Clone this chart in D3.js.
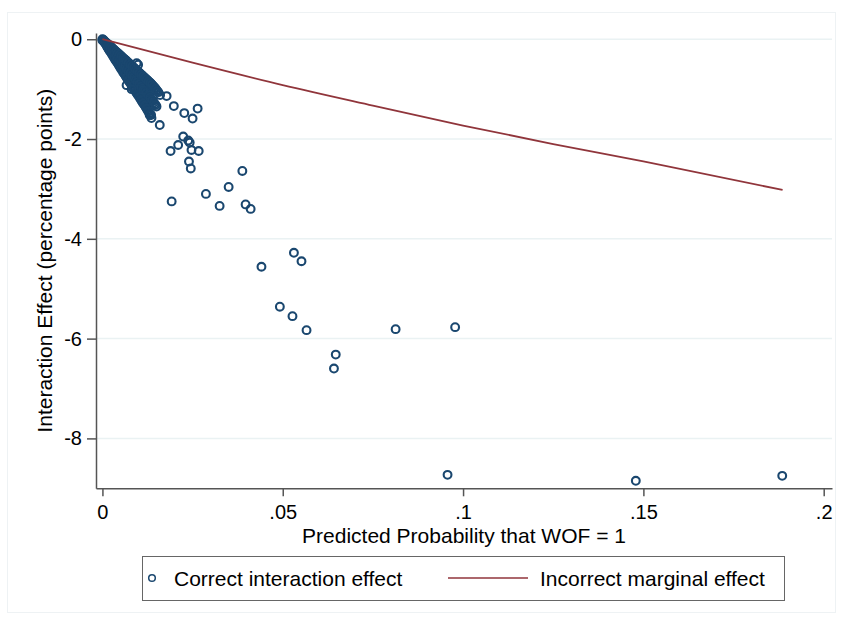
<!DOCTYPE html>
<html>
<head>
<meta charset="utf-8">
<script src="https://cdn.jsdelivr.net/npm/d3@7"></script>
<style>
  body { margin: 0; background: #fff; }
  svg text { font-family: "Liberation Sans", Arial, sans-serif; fill: #000; }
</style>
</head>
<body>
<div id="chart"></div>
<script>
var pointProb = [
  0.0000, 0.0000, 0.0005, 0.0005, 0.0010, 0.0010,
  0.0015, 0.0015, 0.0015, 0.0020, 0.0020, 0.0020,
  0.0025, 0.0025, 0.0025, 0.0030, 0.0030, 0.0030,
  0.0035, 0.0035, 0.0035, 0.0040, 0.0040, 0.0040,
  0.0045, 0.0045, 0.0045, 0.0050, 0.0050, 0.0050,
  0.0055, 0.0055, 0.0055, 0.0060, 0.0060, 0.0060,
  0.0065, 0.0065, 0.0065, 0.0070, 0.0070, 0.0070,
  0.0075, 0.0075, 0.0075, 0.0080, 0.0080, 0.0080,
  0.0085, 0.0085, 0.0085, 0.0090, 0.0090, 0.0090,
  0.0095, 0.0095, 0.0095, 0.0100, 0.0100, 0.0100,
  0.0105, 0.0105, 0.0105, 0.0110, 0.0110, 0.0110,
  0.0115, 0.0115, 0.0115, 0.0120, 0.0120, 0.0120,
  0.0125, 0.0125, 0.0125, 0.0130, 0.0130, 0.0130,
  0.0135, 0.0135, 0.0135, 0.0140, 0.0140, 0.0145,
  0.0145, 0.0150, 0.0150, 0.0155, 0.0160,
  0.00025, 0.00025, 0.00075, 0.00075,
  0.00125, 0.00125, 0.00125, 0.00175, 0.00175, 0.00175,
  0.00225, 0.00225, 0.00225, 0.00275, 0.00275, 0.00275,
  0.00325, 0.00325, 0.00325, 0.00375, 0.00375, 0.00375,
  0.00425, 0.00425, 0.00425, 0.00475, 0.00475, 0.00475,
  0.00525, 0.00525, 0.00525, 0.00575, 0.00575, 0.00575,
  0.00625, 0.00625, 0.00625, 0.00675, 0.00675, 0.00675,
  0.00725, 0.00725, 0.00725, 0.00775, 0.00775, 0.00775,
  0.00825, 0.00825, 0.00825, 0.00875, 0.00875, 0.00875,
  0.00925, 0.00925, 0.00925, 0.00975, 0.00975, 0.00975,
  0.01025, 0.01025, 0.01025, 0.01075, 0.01075, 0.01075,
  0.01125, 0.01125, 0.01125, 0.01175, 0.01175, 0.01175,
  0.01225, 0.01225, 0.01225, 0.01275, 0.01275, 0.01275,
  0.01325, 0.01325, 0.01325, 0.01375, 0.01375, 0.01425,
  0.01425, 0.01475, 0.01475, 0.01525,
  0.0095, 0.0099, 0.0067, 0.0081, 0.0113, 0.0131, 0.0136,
  0.0178, 0.0198, 0.0227, 0.0264, 0.0250, 0.0159, 0.0224,
  0.0238, 0.0242, 0.0210, 0.0189, 0.0247, 0.0267, 0.0240,
  0.0245, 0.0388, 0.0350, 0.0287, 0.0192, 0.0325, 0.0397,
  0.0411, 0.0531, 0.0552, 0.0441, 0.0492, 0.0527, 0.0566,
  0.0813, 0.0978, 0.0647, 0.0642, 0.0957, 0.1479, 0.1885
];
var pointEffect = [
  0.00, -0.02, -0.03, -0.05, -0.07, -0.10,
  -0.10, -0.14, -0.17, -0.13, -0.18, -0.23,
  -0.16, -0.22, -0.28, -0.20, -0.27, -0.34,
  -0.23, -0.31, -0.40, -0.26, -0.35, -0.45,
  -0.29, -0.40, -0.51, -0.33, -0.44, -0.57,
  -0.36, -0.48, -0.62, -0.39, -0.53, -0.68,
  -0.42, -0.57, -0.74, -0.46, -0.62, -0.80,
  -0.49, -0.66, -0.85, -0.52, -0.70, -0.90,
  -0.56, -0.75, -0.97, -0.59, -0.80, -1.02,
  -0.62, -0.84, -1.08, -0.66, -0.88, -1.13,
  -0.69, -0.93, -1.19, -0.72, -0.97, -1.25,
  -0.76, -1.01, -1.30, -0.79, -1.05, -1.36,
  -0.82, -1.10, -1.42, -0.86, -1.15, -1.48,
  -0.89, -1.20, -1.52, -0.93, -1.24, -0.97,
  -1.30, -1.02, -1.35, -1.06, -1.12,
  -0.01, -0.03, -0.05, -0.08,
  -0.08, -0.11, -0.14, -0.11, -0.16, -0.20,
  -0.15, -0.20, -0.25, -0.18, -0.25, -0.31,
  -0.21, -0.29, -0.37, -0.25, -0.33, -0.43,
  -0.28, -0.38, -0.48, -0.31, -0.42, -0.54,
  -0.34, -0.46, -0.60, -0.38, -0.51, -0.66,
  -0.41, -0.55, -0.71, -0.44, -0.60, -0.77,
  -0.47, -0.64, -0.83, -0.51, -0.68, -0.88,
  -0.54, -0.73, -0.94, -0.57, -0.77, -1.00,
  -0.61, -0.82, -1.05, -0.64, -0.86, -1.11,
  -0.67, -0.90, -1.16, -0.71, -0.95, -1.22,
  -0.74, -0.99, -1.28, -0.77, -1.03, -1.33,
  -0.81, -1.08, -1.39, -0.84, -1.12, -1.45,
  -0.87, -1.17, -1.50, -0.91, -1.22, -0.95,
  -1.27, -0.99, -1.32, -1.04,
  -0.48, -0.51, -0.92, -1.00, -1.02, -1.52, -1.58,
  -1.14, -1.34, -1.48, -1.39, -1.59, -1.72, -1.95,
  -2.03, -2.07, -2.12, -2.24, -2.22, -2.24, -2.45,
  -2.59, -2.64, -2.96, -3.10, -3.25, -3.34, -3.31,
  -3.40, -4.28, -4.45, -4.56, -5.36, -5.55, -5.83,
  -5.81, -5.77, -6.32, -6.60, -8.73, -8.85, -8.75
];

// incorrect marginal effect curve
var lineProb = [0, 0.025, 0.05, 0.075, 0.1, 0.125, 0.15, 0.1886];
var lineEffect = [0, -0.47, -0.92, -1.33, -1.73, -2.10, -2.45, -3.02];

var xTicks = [0, 0.05, 0.1, 0.15, 0.2];
var xTickLabels = ["0", ".05", ".1", ".15", ".2"];
var yTicks = [-8, -6, -4, -2, 0];
var yTickLabels = ["-8", "-6", "-4", "-2", "0"];

var legendLabels = ["Correct interaction effect", "Incorrect marginal effect"];

var navy = "#1a476f", maroon = "#90353b";

var svg = d3.select("#chart").append("svg")
  .attr("width", 842)
  .attr("height", 619);

// faint outer frame of the graph region
svg.append("rect")
  .attr("x", 7.5).attr("y", 12.5)
  .attr("width", 828).attr("height", 600)
  .attr("fill", "none")
  .attr("stroke", "#eef2f4");

var plotLeft = 96, plotRight = 832, plotTop = 33, plotBottom = 488.3;

var x = d3.scaleLinear().domain([-0.00178, 0.2023]).range([plotLeft, plotRight]);
var y = d3.scaleLinear().domain([-9.0, 0.125]).range([plotBottom, plotTop]);

// horizontal grid lines
svg.append("g")
  .selectAll("line")
  .data(yTicks)
  .enter().append("line")
  .attr("x1", plotLeft).attr("x2", plotRight)
  .attr("y1", function (d) { return y(d); })
  .attr("y2", function (d) { return y(d); })
  .attr("stroke", "#eaf2f3")
  .attr("stroke-width", 1.5);

// axes
var xAxis = svg.append("g")
  .attr("transform", "translate(0," + plotBottom + ")")
  .call(d3.axisBottom(x)
    .tickValues(xTicks)
    .tickSize(8)
    .tickPadding(9)
    .tickSizeOuter(0)
    .tickFormat(function (d, i) { return xTickLabels[i]; }));

var yAxis = svg.append("g")
  .attr("transform", "translate(" + plotLeft + ",0)")
  .call(d3.axisLeft(y)
    .tickValues(yTicks)
    .tickSize(9)
    .tickPadding(5)
    .tickSizeOuter(0)
    .tickFormat(function (d, i) { return yTickLabels[i]; }));

[xAxis, yAxis].forEach(function (ax) {
  ax.select(".domain").attr("stroke", "#555").attr("stroke-width", 1.5);
  ax.selectAll(".tick line").attr("stroke", "#555").attr("stroke-width", 1.5);
  ax.selectAll(".tick text")
    .attr("fill", "#000")
    .style("font-size", "20px")
    .style("font-family", "'Liberation Sans', Arial, sans-serif");
});

// axis titles
svg.append("text")
  .attr("x", (plotLeft + plotRight) / 2)
  .attr("y", 543)
  .attr("text-anchor", "middle")
  .style("font-size", "21px")
  .text("Predicted Probability that WOF = 1");

svg.append("text")
  .attr("transform", "translate(52," + ((plotTop + plotBottom) / 2) + ") rotate(-90)")
  .attr("text-anchor", "middle")
  .style("font-size", "21px")
  .text("Interaction Effect (percentage points)");

// scatter of correct interaction effects
var pts = pointProb.map(function (p, i) { return [p, pointEffect[i]]; });
svg.append("g")
  .selectAll("circle")
  .data(pts)
  .enter().append("circle")
  .attr("cx", function (d) { return x(d[0]); })
  .attr("cy", function (d) { return y(d[1]); })
  .attr("r", 3.9)
  .attr("fill", "none")
  .attr("stroke", navy)
  .attr("stroke-width", 2.1);

// incorrect marginal effect line
var linePts = lineProb.map(function (p, i) { return [p, lineEffect[i]]; });
svg.append("path")
  .datum(linePts)
  .attr("fill", "none")
  .attr("stroke", maroon)
  .attr("stroke-width", 1.8)
  .attr("d", d3.line()
    .x(function (d) { return x(d[0]); })
    .y(function (d) { return y(d[1]); })
    .curve(d3.curveMonotoneX));

// legend
var legend = svg.append("g");
legend.append("rect")
  .attr("x", 142.5).attr("y", 556.5)
  .attr("width", 642).attr("height", 44)
  .attr("fill", "#fff")
  .attr("stroke", "#666")
  .attr("stroke-width", 1);

legend.append("circle")
  .attr("cx", 152).attr("cy", 578)
  .attr("r", 3.3)
  .attr("fill", "none")
  .attr("stroke", navy)
  .attr("stroke-width", 1.5);

legend.append("text")
  .attr("x", 174).attr("y", 585.5)
  .style("font-size", "21px")
  .text(legendLabels[0]);

legend.append("line")
  .attr("x1", 448).attr("x2", 528)
  .attr("y1", 578).attr("y2", 578)
  .attr("stroke", maroon)
  .attr("stroke-width", 1.6);

legend.append("text")
  .attr("x", 540).attr("y", 585.5)
  .style("font-size", "21px")
  .text(legendLabels[1]);
</script>
</body>
</html>
